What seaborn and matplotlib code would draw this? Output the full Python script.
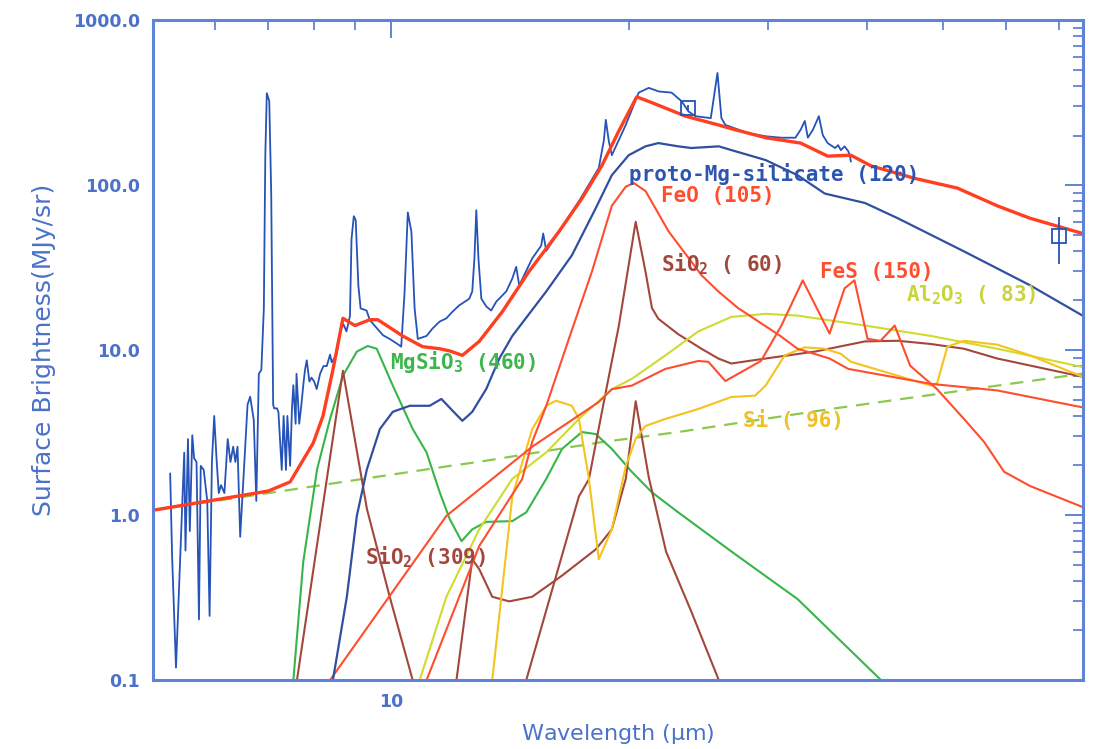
import matplotlib
matplotlib.use("Agg")
import matplotlib.pyplot as plt
import seaborn as sns
import numpy as np
from matplotlib import ticker

# ---------------- data (wavelength in micron, surface brightness in MJy/sr) ----------------
obs_wl = [
    5.26, 5.29, 5.35, 5.48, 5.50, 5.54, 5.57, 5.61, 5.64, 5.68,
    5.72, 5.75, 5.80, 5.86, 5.90, 5.94, 5.98, 6.02, 6.06, 6.10,
    6.16, 6.22, 6.27, 6.32, 6.36, 6.40, 6.45, 6.52, 6.59, 6.64,
    6.71, 6.76, 6.81, 6.86, 6.91, 6.94, 6.97, 7.02, 7.06, 7.10,
    7.12, 7.18, 7.21, 7.28, 7.32, 7.37, 7.40, 7.46, 7.50, 7.53,
    7.58, 7.60, 7.66, 7.70, 7.76, 7.79, 7.83, 7.89, 7.94, 8.00,
    8.06, 8.14, 8.22, 8.30, 8.38, 8.42, 8.54, 8.63, 8.71, 8.79,
    8.88, 8.92, 8.98, 9.03, 9.10, 9.16, 9.32, 9.41, 9.59, 9.78,
    9.97, 10.17, 10.31, 10.41, 10.51, 10.62, 10.72, 10.82, 11.10, 11.29,
    11.53, 11.76, 11.97, 12.21, 12.57, 12.68, 12.76, 12.83, 12.91, 13.02,
    13.21, 13.40, 13.60, 14.00, 14.25, 14.41, 14.54, 15.10, 15.50, 15.59,
    15.73, 16.33, 17.30, 18.33, 18.60, 18.71, 18.87, 19.04, 19.83, 20.59,
    21.20, 21.83, 22.66, 23.33, 23.80, 24.29, 25.40, 25.90, 26.20, 26.50,
    28.30, 29.80, 31.20, 32.50, 33.00, 33.40, 33.70, 34.20, 34.80, 35.20,
    35.70, 36.00, 36.50, 36.80, 37.10, 37.50, 37.90, 38.10, 38.20]
obs_flux = [
    1.79, 0.56, 0.119, 2.39, 0.61, 2.89, 0.80, 3.05, 2.21, 2.10,
    0.233, 1.99, 1.88, 1.22, 0.245, 2.10, 3.99, 2.21, 1.36, 1.52,
    1.36, 2.89, 2.10, 2.60, 2.10, 2.60, 0.74, 1.88, 4.68, 5.22,
    3.78, 1.22, 7.19, 7.59, 17.9, 153, 361, 324, 89.5, 4.68,
    4.44, 4.44, 4.21, 1.88, 3.99, 1.88, 3.99, 1.99, 4.44, 6.13,
    3.58, 7.19, 3.58, 4.44, 6.46, 7.59, 8.68, 6.46, 6.81, 6.46,
    5.81, 7.19, 8.01, 8.01, 9.40, 8.45, 9.40, 13.0, 14.4, 13.0,
    16.1, 47.0, 64.9, 61.4, 24.7, 17.9, 17.4, 15.2, 13.7, 12.3,
    11.7, 11.0, 10.5, 22.2, 68.4, 52.3, 17.9, 11.7, 12.2, 13.5,
    14.9, 15.6, 17.1, 18.7, 20.5, 22.7, 36.0, 70.5, 36.0, 20.5,
    18.4, 17.4, 19.7, 22.7, 27.2, 32.0, 24.7, 36.0, 43.0, 51.0,
    40.0, 52.5, 80.0, 127, 186, 249, 186, 152, 232, 364,
    389, 370, 364, 323, 280, 262, 255, 479, 255, 232,
    207, 198, 194, 194, 217, 245, 194, 217, 262, 201,
    180, 175, 168, 175, 163, 172, 161, 150, 139]

tot_wl = [5.0, 7.0, 7.46, 7.98, 8.21, 8.45, 8.70, 9.01, 9.41, 9.63,
          10.35, 10.97, 11.53, 11.87, 12.32, 12.94, 13.84, 14.96, 16.33, 17.45,
          18.49, 19.43, 20.47, 21.38, 23.6, 25.96, 26.96, 29.8, 33.0, 35.7,
          38.2, 40.5, 46.0, 52.1, 58.5, 64.4, 75.0]
tot_flux = [1.07, 1.40, 1.59, 2.74, 4.0, 7.6, 15.6, 14.1, 15.3, 15.3,
            12.2, 10.5, 10.2, 9.9, 9.3, 11.3, 17.1, 30, 52.5, 83,
            131, 213, 343, 317, 262, 232, 220, 194, 180, 150,
            152, 131, 110, 96, 75, 63, 51]

pms_wl = [8.45, 8.80, 9.06, 9.33, 9.69, 10.06, 10.57, 11.20, 11.59, 11.97,
          12.32, 12.68, 13.21, 13.72, 14.25, 15.73, 16.95, 18.17, 19.04, 20.0,
          21.0, 21.8, 23.1, 24.0, 26.0, 27.0, 29.8, 32.7, 35.4, 39.8,
          43.8, 53.1, 64.4, 75.0]
pms_flux = [0.1, 0.32, 0.99, 1.9, 3.33, 4.23, 4.6, 4.6, 5.06, 4.3,
            3.73, 4.23, 5.83, 8.9, 12.2, 22.7, 37.6, 72.6, 115, 152,
            172, 180, 172, 168, 172, 163, 142, 115, 89, 78,
            63, 39.7, 24.7, 16.2]

feo_wl = [11.1, 12.94, 14.66, 15.10, 15.73, 16.80, 17.97, 19.04, 19.83, 20.3,
          21.01, 22.46, 24.72, 25.96, 27.5, 31.1, 32.7, 35.9, 37.9, 48.2, 58.5, 75.0]
feo_flux = [0.1, 0.65, 1.65, 2.78, 4.6, 11.7, 30, 75, 98, 103,
            92, 52.5, 28.5, 22.7, 18, 12.2, 10.2, 8.9, 7.7, 6.25, 5.7, 4.5]

fes_wl = [8.38, 11.76, 15.10, 18.33, 19.04, 20.18, 22.26, 24.5, 25.22, 26.5,
          29.4, 31.2, 33.2, 35.9, 37.5, 38.6, 40.1, 41.65, 43.4, 45.4,
          49.1, 53.1, 56.3, 59.7, 64.4, 75.0]
fes_flux = [0.1, 0.99, 2.6, 4.85, 5.8, 6.1, 7.7, 8.6, 8.5, 6.5,
            8.6, 14.1, 26.5, 12.6, 23.7, 26.5, 11.7, 11.4, 14.1, 8.05,
            5.8, 3.83, 2.78, 1.83, 1.5, 1.12]

sio2a_wl = [14.84, 17.3, 17.81, 18.71, 19.43, 20.41, 21.0, 21.4, 21.8, 23.1,
            24.72, 25.96, 26.96, 29.8, 34.4, 39.8, 43.8, 48.2, 53.1, 58.5, 75.0]
sio2a_flux = [0.1, 1.3, 1.65, 5.6, 14, 60, 30, 18, 15.5, 12.5,
              10.2, 8.9, 8.3, 8.9, 9.8, 11.3, 11.4, 10.9, 10.2, 8.9, 6.9]

sio2b_wl = [7.61, 8.70, 9.33, 9.97, 10.66, 11.4, 12.11, 12.68, 12.94, 13.44,
            14.12, 15.10, 16.47, 18.17, 19.04, 19.83, 20.41, 21.2, 22.3, 24.0, 26.0]
sio2b_flux = [0.1, 7.5, 1.09, 0.32, 0.1, 0.03, 0.1, 0.54, 0.47, 0.32,
              0.30, 0.32, 0.43, 0.62, 0.82, 1.66, 4.9, 1.7, 0.6, 0.26, 0.1]

al2o3_wl = [10.88, 11.76, 12.94, 14.25, 15.73, 17.3, 19.04, 20.18, 22.26, 24.5,
            26.96, 29.8, 32.7, 39.8, 48.2, 58.5, 75.0]
al2o3_flux = [0.1, 0.32, 0.82, 1.66, 2.4, 3.83, 5.8, 6.7, 9.3, 13,
              15.9, 16.6, 16.2, 14.1, 12.2, 10.2, 7.9]

si_wl = [13.44, 14.25, 15.10, 15.73, 16.18, 16.95, 17.3, 17.81, 18.33, 19.04,
         19.83, 20.41, 21.0, 22.26, 24.5, 26.96, 28.9, 29.8, 31.5, 33.4,
         35.4, 37.1, 38.2, 43.8, 48.2, 49.1, 50.6, 53.1, 58.5, 64.4, 75.0]
si_flux = [0.1, 1.3, 3.33, 4.6, 4.94, 4.6, 3.83, 1.66, 0.54, 0.82,
           1.98, 2.9, 3.47, 3.83, 4.4, 5.2, 5.3, 6.1, 9.3, 10.4,
           10.2, 9.5, 8.5, 7.0, 6.1, 6.3, 10.5, 11.4, 10.8, 9.3, 6.9]

mgsio3_wl = [7.53, 7.75, 8.07, 8.38, 8.70, 9.06, 9.35, 9.60, 10.06, 10.66,
             11.10, 11.53, 11.87, 12.29, 12.68, 13.21, 14.25, 14.84, 15.73, 16.47,
             17.45, 18.17, 19.04, 20.18, 21.38, 23.1, 27.0, 32.7, 41.7]
mgsio3_flux = [0.1, 0.52, 1.9, 3.83, 7.0, 9.8, 10.6, 10.2, 6.1, 3.33,
               2.4, 1.38, 0.95, 0.695, 0.82, 0.91, 0.92, 1.04, 1.66, 2.52,
               3.19, 3.1, 2.52, 1.83, 1.38, 1.04, 0.6, 0.31, 0.1]

cont_wl = [5.0, 7.0, 11.9, 12.9, 18.3, 23.1, 36.0, 75.0]
cont_flux = [1.07, 1.36, 1.99, 2.1, 2.75, 3.19, 4.4, 7.2]

phot_wl = [23.8, 70.0]
phot_flux = [294, 49]
phot_err_lo = [12, 15.5]
phot_err_hi = [12, 15]

comp_labels = ["proto-Mg-silicate (120)", "FeO (105)", "SiO$_2$ ( 60)", "FeS (150)",
               "Al$_2$O$_3$ ( 83)", "Si ( 96)", "MgSiO$_3$ (460)", "SiO$_2$ (309)"]
label_wl = [20.0, 22.0, 22.0, 34.9, 44.8, 27.9, 9.97, 9.27]
label_flux = [106, 78.8, 30, 27.2, 19.7, 3.43, 7.7, 0.50]

x_ticks = [10]
x_ticklabels = ["10"]
y_ticks = [0.1, 1, 10, 100, 1000]
y_ticklabels = ["0.1", "1.0", "10.0", "100.0", "1000.0"]

# ---------------- style ----------------
sns.set_style("white")
plt.rcParams['font.family'] = ['DejaVu Sans']
plt.rcParams['mathtext.default'] = 'regular'

c_axis = '#5f83d8'
c_text = '#4b72c8'
c_obs = '#2553b8'
c_tot = '#ff3f1f'
c_pms = '#30509f'
c_red = '#ff4d2e'
c_brown = '#a2473c'
c_al = '#cfdb2e'
c_si = '#f6c21c'
c_mg = '#37b54b'
c_cont = '#8cc84e'

fig = plt.figure(figsize=(10.99, 7.49), dpi=100)
ax = fig.add_axes([0.139, 0.092, 0.846, 0.881])
ax.set_xscale('log')
ax.set_yscale('log')


def line(x, y, color, lw, **kw):
    sns.lineplot(x=x, y=y, color=color, linewidth=lw, ax=ax,
                 sort=False, estimator=None, **kw)


line(cont_wl, cont_flux, c_cont, 1.6, linestyle=(0, (6, 4)))
line(obs_wl, obs_flux, c_obs, 1.3)
line(mgsio3_wl, mgsio3_flux, c_mg, 1.5)
line(sio2b_wl, sio2b_flux, c_brown, 1.5)
line(sio2a_wl, sio2a_flux, c_brown, 1.5)
line(al2o3_wl, al2o3_flux, c_al, 1.5)
line(si_wl, si_flux, c_si, 1.5)
line(fes_wl, fes_flux, c_red, 1.5)
line(feo_wl, feo_flux, c_red, 1.5)
line(pms_wl, pms_flux, c_pms, 1.6)
line(tot_wl, tot_flux, c_tot, 2.4)

ax.errorbar(phot_wl, phot_flux, yerr=[phot_err_lo, phot_err_hi], fmt='s',
            mfc='none', mec=c_obs, ecolor=c_obs, ms=10, mew=1.3,
            elinewidth=1.3, capsize=0, zorder=5)

label_colors = ['#2d55b0', c_red, c_brown, c_red, '#c9d43a', '#f0c020', '#3cb54b', c_brown]
for t, xw, yf, col in zip(comp_labels, label_wl, label_flux, label_colors):
    ax.text(xw, yf, t, color=col, fontsize=15, fontweight='bold',
            family='DejaVu Sans Mono', ha='left', va='baseline', zorder=6)

ax.set_xlim(5, 75)
ax.set_ylim(0.1, 1000)

ax.xaxis.set_major_locator(ticker.FixedLocator(x_ticks))
ax.xaxis.set_major_formatter(ticker.FixedFormatter(x_ticklabels))
ax.xaxis.set_minor_locator(ticker.LogLocator(base=10, subs=np.arange(2, 10), numticks=20))
ax.xaxis.set_minor_formatter(ticker.NullFormatter())
ax.yaxis.set_major_locator(ticker.FixedLocator(y_ticks))
ax.yaxis.set_major_formatter(ticker.FixedFormatter(y_ticklabels))
ax.yaxis.set_minor_locator(ticker.LogLocator(base=10, subs=np.arange(2, 10), numticks=30))
ax.yaxis.set_minor_formatter(ticker.NullFormatter())

for s in ax.spines.values():
    s.set_color(c_axis)
    s.set_linewidth(2.2)
ax.tick_params(which='both', direction='in', top=True, right=True,
               color=c_axis, labelcolor=c_text, labelsize=12.5, pad=9)
ax.tick_params(which='major', length=13, width=1.4)
ax.tick_params(which='minor', length=7, width=1.3)
for lab in ax.get_xticklabels() + ax.get_yticklabels():
    lab.set_fontweight('bold')

ax.set_xlabel("Wavelength ($\\mu$m)", color=c_text, fontsize=16, labelpad=8)
ax.set_ylabel("Surface Brightness(MJy/sr)", color=c_text, fontsize=18, labelpad=12)

fig.savefig("out.png", dpi=100, facecolor='white')
